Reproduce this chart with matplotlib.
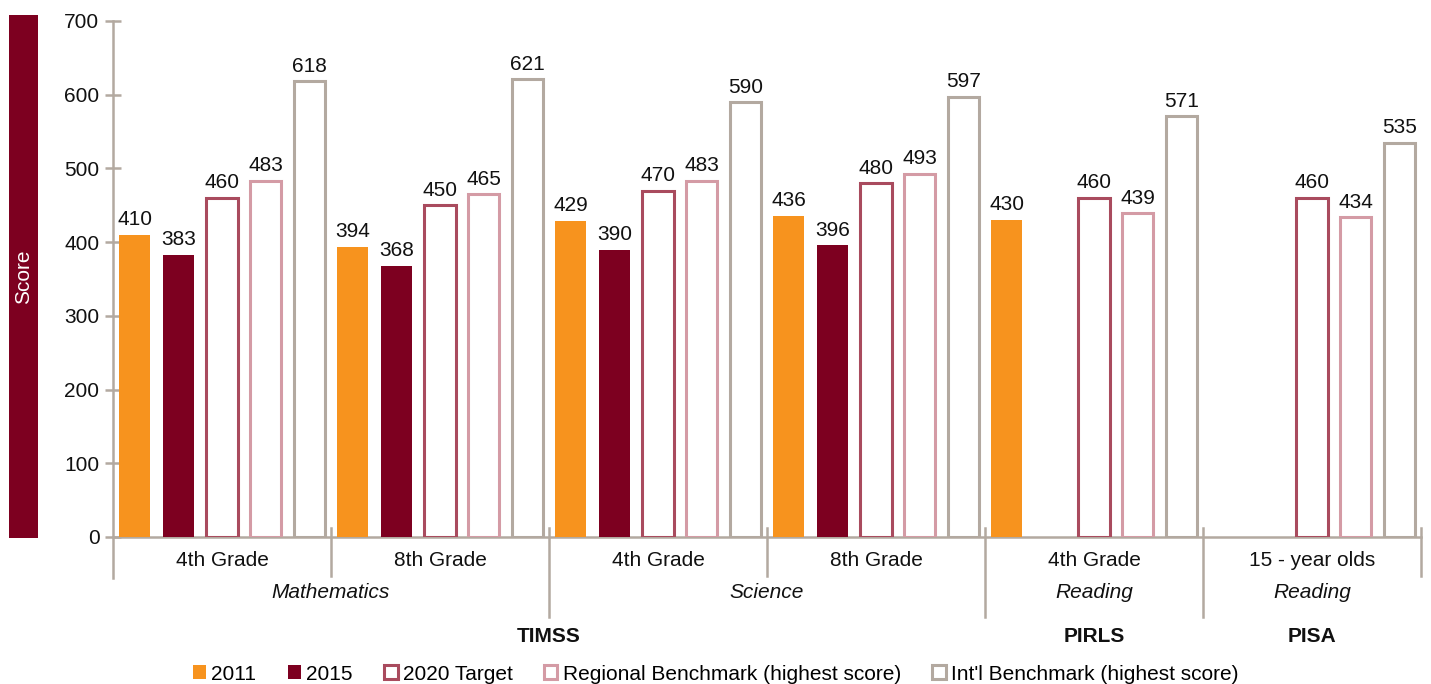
import matplotlib
matplotlib.use("Agg")
import matplotlib.pyplot as plt
from matplotlib.patches import Rectangle, Patch
from matplotlib.lines import Line2D

plt.rcParams['font.family'] = ['Liberation Sans', 'DejaVu Sans']

# ---- data -------------------------------------------------------------
groups = ["4th Grade", "8th Grade", "4th Grade", "8th Grade", "4th Grade", "15 - year olds"]
subjects = ["Mathematics", "Science", "Reading", "Reading"]
subject_spans = [(0, 2), (2, 4), (4, 5), (5, 6)]
assessments = ["TIMSS", "PIRLS", "PISA"]
assessment_spans = [(0, 4), (4, 5), (5, 6)]

series_names = ["2011", "2015", "2020 Target",
                "Regional Benchmark (highest score)",
                "Int'l Benchmark (highest score)"]
scores_2011 = [410, 394, 429, 436, 430, None]
scores_2015 = [383, 368, 390, 396, None, None]
target_2020 = [460, 450, 470, 480, 460, 460]
regional_best = [483, 465, 483, 493, 439, 434]
intl_best = [618, 621, 590, 597, 571, 535]
series_values = [scores_2011, scores_2015, target_2020, regional_best, intl_best]

yticks = [0, 100, 200, 300, 400, 500, 600, 700]

# ---- styles -----------------------------------------------------------
ORANGE = "#F7931E"
MAROON = "#7D0020"
TARGET = "#A94B5E"
REGION = "#D49BA5"
GREY = "#B3A9A0"
styles = [
    dict(facecolor=ORANGE, edgecolor=ORANGE, linewidth=0),
    dict(facecolor=MAROON, edgecolor=MAROON, linewidth=0),
    dict(facecolor="white", edgecolor=TARGET, linewidth=2.2),
    dict(facecolor="white", edgecolor=REGION, linewidth=2.2),
    dict(facecolor="white", edgecolor=GREY, linewidth=2.2),
]
FS = 15

fig = plt.figure(figsize=(14.31, 6.84), dpi=100)
ax = fig.add_axes([113 / 1431, 147 / 684, 1308 / 1431, 516 / 684])

n_series = len(series_values)
slot = 1.0 / n_series
bar_w = slot * 0.72

for k, (vals, st) in enumerate(zip(series_values, styles)):
    for g, v in enumerate(vals):
        if v is None:
            continue
        x = g + slot / 2 + k * slot
        ax.bar(x, v, width=bar_w, zorder=3, **st)
        ax.annotate(str(v), (x, v), xytext=(0, 4), textcoords="offset points",
                    ha="center", va="bottom", fontsize=FS, color="#111111")

ax.set_xlim(0, len(groups))
ax.set_ylim(0, 700)
ax.set_yticks(yticks)
ax.set_xticks([])
for s in ["top", "right", "left"]:
    ax.spines[s].set_visible(False)
ax.spines["bottom"].set_color(GREY)
ax.spines["bottom"].set_linewidth(1.8)
ax.tick_params(axis="y", direction="inout", length=11.5, width=1.8,
               color=GREY, labelsize=FS, pad=4, labelcolor="#111111")

tr = ax.get_xaxis_transform()
# left axis line, running below zero
ax.add_line(Line2D([0, 0], [1.0, -0.0795], transform=tr, color=GREY,
                   lw=1.8, clip_on=False, zorder=4))

# group separators
short_edges = [1, 3, 6]
long_edges = [2, 4, 5]
for xe in short_edges:
    ax.add_line(Line2D([xe, xe], [0.0174, -0.0756], transform=tr, color=GREY,
                       lw=1.8, clip_on=False))
for xe in long_edges:
    ax.add_line(Line2D([xe, xe], [0.0174, -0.155], transform=tr, color=GREY,
                       lw=1.8, clip_on=False))

# category labels
for g, name in enumerate(groups):
    ax.text(g + 0.5, -0.0465, name, transform=tr, ha="center", va="center",
            fontsize=FS, color="#111111")
for name, (a, b) in zip(subjects, subject_spans):
    ax.text((a + b) / 2, -0.1066, name, transform=tr, ha="center", va="center",
            fontsize=FS, style="italic", color="#111111")
for name, (a, b) in zip(assessments, assessment_spans):
    ax.text((a + b) / 2, -0.192, name, transform=tr, ha="center", va="center",
            fontsize=FS, fontweight="bold", color="#111111")

# axis title box
fig.patches.append(Rectangle((9 / 1431, 146 / 684), 29 / 1431, 523 / 684,
                             transform=fig.transFigure, facecolor=MAROON,
                             edgecolor="none"))
fig.text(23.5 / 1431, (684 - 276.5) / 684, "Score", rotation=90, ha="center",
         va="center", color="white", fontsize=FS)

handles = [Patch(**st) for st in styles]
fig.legend(handles, series_names, loc="center", bbox_to_anchor=(0.5, 10 / 684),
           ncol=5, frameon=False, fontsize=FS, handlelength=0.65,
           handleheight=0.65, handletextpad=0.25, columnspacing=1.5,
           borderpad=0, borderaxespad=0)

fig.savefig("out.png", dpi=100)
